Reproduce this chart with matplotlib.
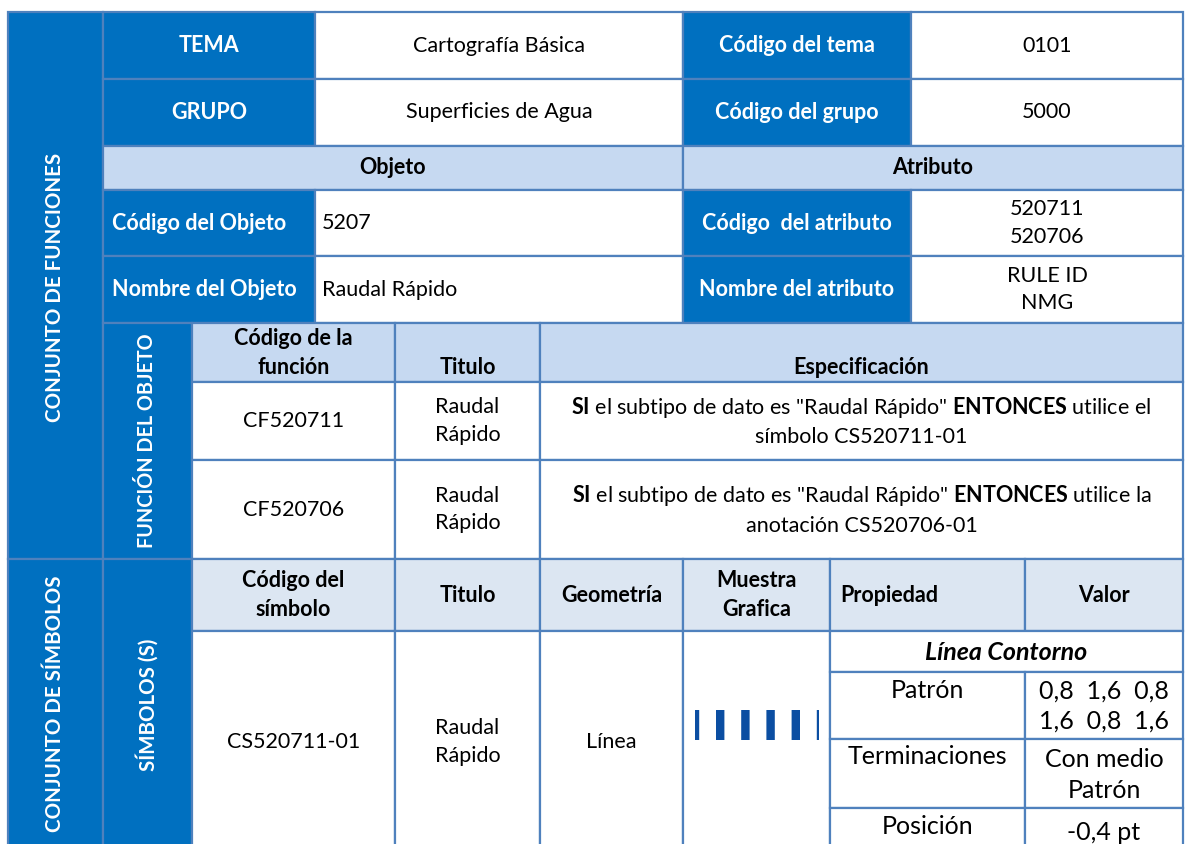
import matplotlib
matplotlib.use("Agg")
import matplotlib.pyplot as plt
from matplotlib.patches import Rectangle

plt.rcParams["font.family"] = ["Lato", "DejaVu Sans"]
plt.rcParams["mathtext.fontset"] = "custom"
plt.rcParams["mathtext.rm"] = "Lato"
plt.rcParams["mathtext.bf"] = "Lato:bold"
plt.rcParams["lines.scale_dashes"] = False

DARK = "#0070C0"
LIGHT = "#C6D9F1"
PALE = "#DCE6F2"
EDGE = "#4F81BD"
INK = "#0B4EA2"

# ---- table content ----
tema_row = ["TEMA", "Cartografía Básica", "Código del tema", "0101"]
grupo_row = ["GRUPO", "Superficies de Agua", "Código del grupo", "5000"]
block_headers = ["Objeto", "Atributo"]
obj_code_row = ["Código del Objeto", "5207", "Código  del atributo", "520711\n520706"]
obj_name_row = ["Nombre del Objeto", "Raudal Rápido", "Nombre del atributo", "RULE ID\nNMG"]

side_labels = ["CONJUNTO DE FUNCIONES", "CONJUNTO DE SÍMBOLOS"]
sub_labels = ["FUNCIÓN DEL OBJETO", "SÍMBOLOS (S)"]

func_header = ["Código de la\nfunción", "Titulo", "Especificación"]
func_codes = ["CF520711", "CF520706"]
func_titles = ["Raudal\nRápido", "Raudal\nRápido"]
func_specs = [
    '$\\mathbf{SI}$ el subtipo de dato es "Raudal Rápido" $\\mathbf{ENTONCES}$ utilice el\nsímbolo CS520711-01',
    '$\\mathbf{SI}$ el subtipo de dato es "Raudal Rápido" $\\mathbf{ENTONCES}$ utilice la\nanotación CS520706-01',
]

sym_header = ["Código del\nsímbolo", "Titulo", "Geometría", "Muestra\nGrafica", "Propiedad", "Valor"]
sym_row = ["CS520711-01", "Raudal\nRápido", "Línea"]
prop_title = "Línea Contorno"
props = ["Patrón", "Terminaciones", "Posición"]
prop_values = ["0,8  1,6  0,8\n1,6  0,8  1,6", "Con medio\nPatrón", "-0,4 pt"]
pattern = [0.8, 1.6, 0.8, 1.6, 0.8, 1.6]

W, H = 1185, 844
fig = plt.figure(figsize=(W / 100, H / 100), dpi=100)
ax = fig.add_axes([0, 0, 1, 1])
ax.set_xlim(0, W)
ax.set_ylim(H, 0)
ax.axis("off")

FS = 15.5
FS_PROP = 18
FS_SIDE = 14.8


def cell(x0, y0, x1, y1, fc="white"):
    ax.add_patch(Rectangle((x0, y0), x1 - x0, y1 - y0, facecolor=fc,
                           edgecolor=EDGE, linewidth=1.6))


def txt(x, y, s, bold=False, white=False, ha="center", va="center", size=FS, **kw):
    ax.text(x, y, s, ha=ha, va=va, fontsize=size,
            fontweight="bold" if bold else "normal",
            color="white" if white else "black", multialignment=ha,
            linespacing=1.45, **kw)


# column edges
xL, xA, xB, xC, xD, xE = 8, 103, 315, 683, 911, 1183
xs1, xs2, xs3 = 192, 395, 540
xm, xp, xv = 830, 1025, 1183

# left side blocks
cell(xL, 12, xA, 559, DARK)
cell(xL, 559, xA, 852, DARK)
txt(55, 287, side_labels[0], bold=True, white=True, rotation=90, size=FS_SIDE)
txt(55, 704, side_labels[1], bold=True, white=True, rotation=90, size=FS_SIDE)

# top rows
for (y0, y1), row in zip([(12, 79), (79, 146)], [tema_row, grupo_row]):
    cell(xA, y0, xB, y1, DARK)
    cell(xB, y0, xC, y1)
    cell(xC, y0, xD, y1, DARK)
    cell(xD, y0, xE, y1)
    ym = (y0 + y1) / 2
    txt((xA + xB) / 2, ym, row[0], bold=True, white=True)
    txt((xB + xC) / 2, ym, row[1])
    txt((xC + xD) / 2, ym, row[2], bold=True, white=True)
    txt((xD + xE) / 2, ym, row[3])

cell(xA, 146, xC, 190, LIGHT)
cell(xC, 146, xE, 190, LIGHT)
txt((xA + xC) / 2, 168, block_headers[0], bold=True)
txt((xC + xE) / 2, 168, block_headers[1], bold=True)

for (y0, y1), row in zip([(190, 256), (256, 323)], [obj_code_row, obj_name_row]):
    cell(xA, y0, xB, y1, DARK)
    cell(xB, y0, xC, y1)
    cell(xC, y0, xD, y1, DARK)
    cell(xD, y0, xE, y1)
    ym = (y0 + y1) / 2
    txt(xA + 9, ym, row[0], bold=True, white=True, ha="left")
    txt(xB + 7, ym, row[1], ha="left")
    txt((xC + xD) / 2, ym, row[2], bold=True, white=True)
    txt((xD + xE) / 2, ym, row[3])

# function block
cell(xA, 323, xs1, 559, DARK)
txt(147, 441, sub_labels[0], bold=True, white=True, rotation=90, size=14.2)
cell(xs1, 323, xs2, 382, LIGHT)
cell(xs2, 323, xs3, 382, LIGHT)
cell(xs3, 323, xE, 382, LIGHT)
txt((xs1 + xs2) / 2, 353, func_header[0], bold=True)
txt((xs2 + xs3) / 2, 368, func_header[1], bold=True)
txt((xs3 + xE) / 2, 368, func_header[2], bold=True)
for (y0, y1), code, title, spec in zip([(382, 460), (460, 559)], func_codes, func_titles, func_specs):
    cell(xs1, y0, xs2, y1)
    cell(xs2, y0, xs3, y1)
    cell(xs3, y0, xE, y1)
    ym = (y0 + y1) / 2
    txt((xs1 + xs2) / 2, ym, code)
    txt((xs2 + xs3) / 2, ym, title)
    txt((xs3 + xE) / 2, ym, spec)

# symbol block
cell(xA, 559, xs1, 852, DARK)
txt(147, 705, sub_labels[1], bold=True, white=True, rotation=90, size=FS_SIDE)
hdr_edges = [xs1, xs2, xs3, xC, xm, xp, xv]
for i in range(6):
    cell(hdr_edges[i], 559, hdr_edges[i + 1], 631, PALE)
for i, lab in enumerate(sym_header):
    if lab == "Propiedad":
        txt(xm + 10, 596, lab, bold=True, ha="left")
    else:
        txt((hdr_edges[i] + hdr_edges[i + 1]) / 2, 595, lab, bold=True)
for i in range(4):
    cell(hdr_edges[i], 631, hdr_edges[i + 1], 852)
for i, lab in enumerate(sym_row):
    txt((hdr_edges[i] + hdr_edges[i + 1]) / 2, 742, lab)

cell(xm, 631, xv, 672)
txt((xm + xv) / 2, 653, prop_title, bold=True, style="italic", size=FS_PROP)
prop_rows = [(672, 739), (739, 808), (808, 852)]
prop_y = [690, 757, 826]
val_y = [706, 775, 833]
for (y0, y1), p, v, yp, yv in zip(prop_rows, props, prop_values, prop_y, val_y):
    cell(xm, y0, xp, y1)
    cell(xp, y0, xv, y1)
    txt((xm + xp) / 2, yp, p, size=FS_PROP)
    ax.text((xp + xv) / 2, yv, v, ha="center", va="center", fontsize=FS_PROP,
            linespacing=1.4)

# graphic sample: dash pattern from the pattern values (px per unit)
k = 10.5
on, off = pattern[0] * k, pattern[1] * k
pt = 72 / 100
ax.plot([695, 819], [725, 725], color=INK, linewidth=30 * pt, solid_capstyle="butt",
        dash_capstyle="butt", linestyle=(on / 2 * pt, (on * pt, off * pt)))

fig.savefig("out.png", dpi=100)
